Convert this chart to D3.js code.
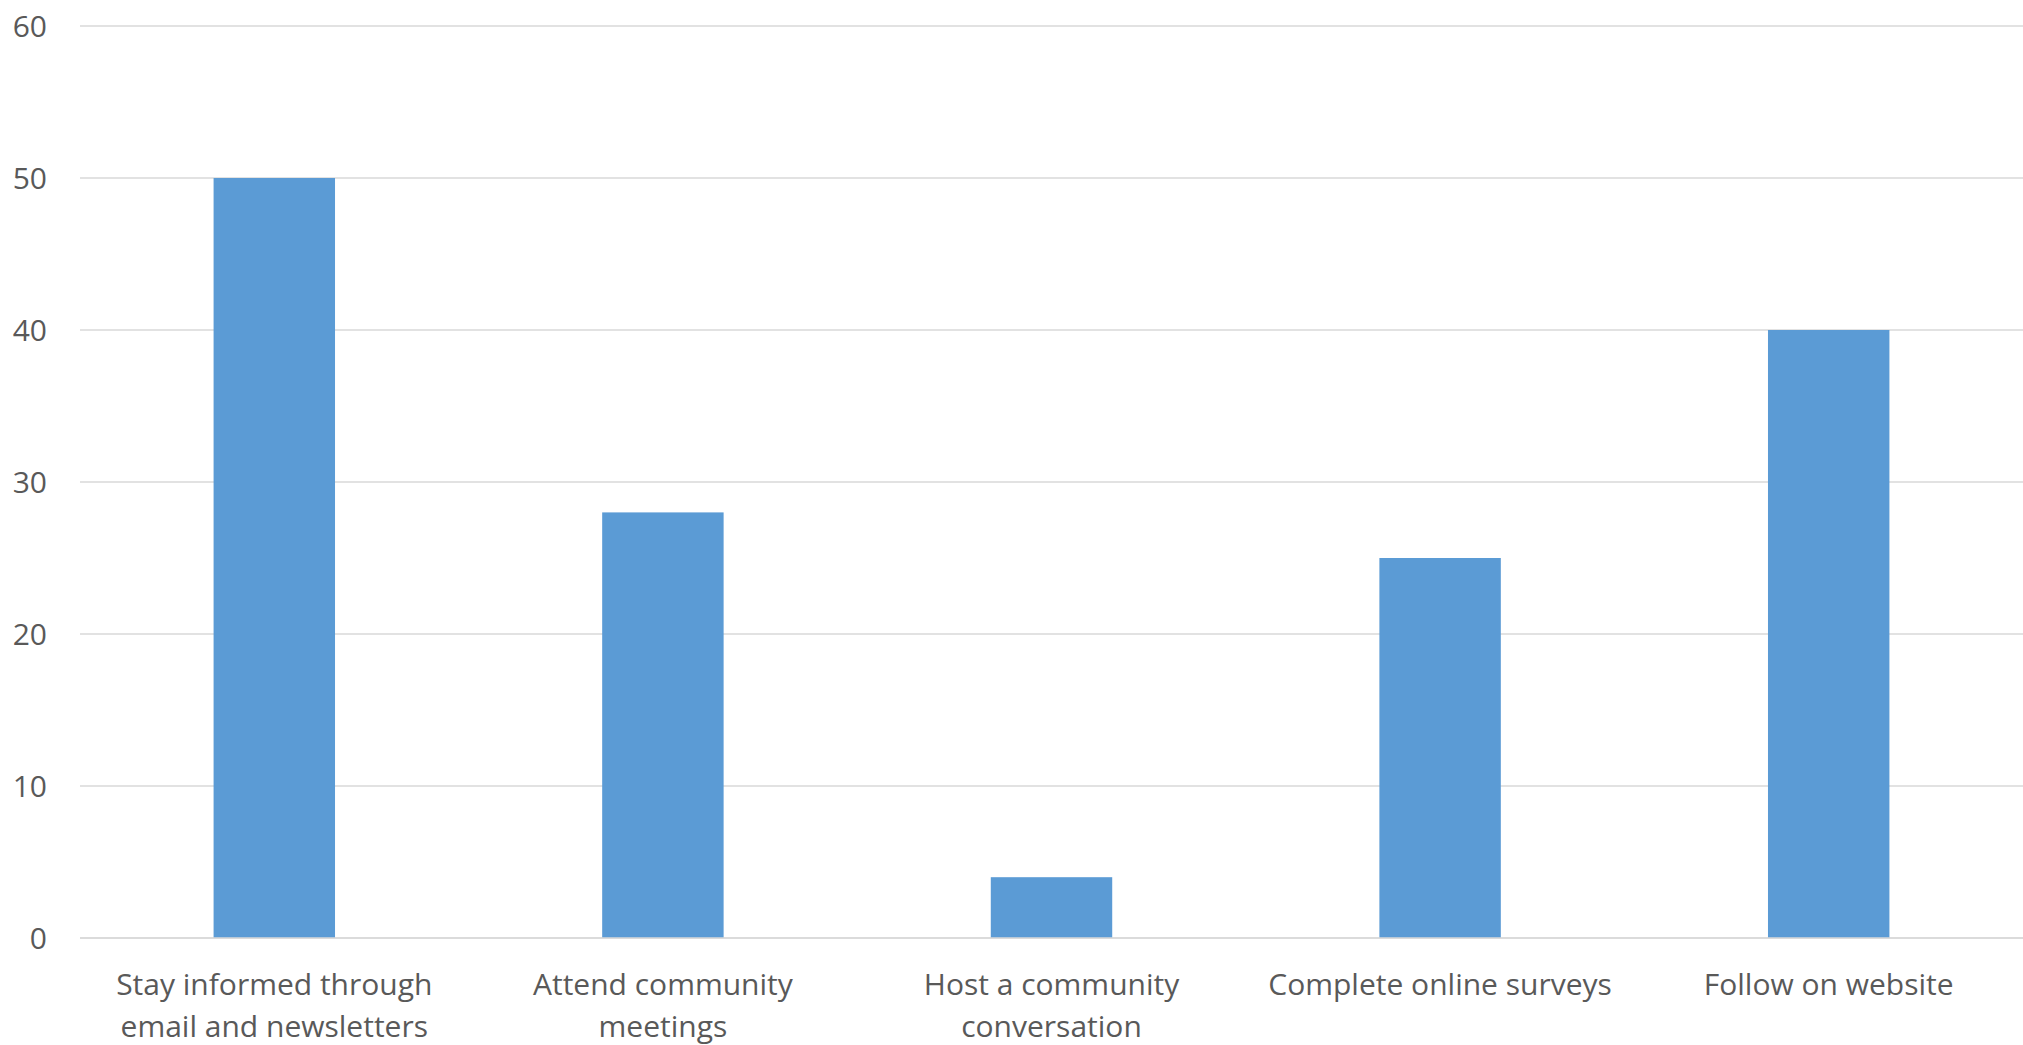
<!DOCTYPE html>
<html>
<head>
<meta charset="utf-8">
<script src="https://cdn.jsdelivr.net/npm/d3@7"></script>
<style>
  html, body { margin: 0; padding: 0; background: #ffffff; }
  svg { display: block; }
  text { font-family: "Open Sans", "Noto Sans", sans-serif; fill: #595959; }
</style>
</head>
<body>
<svg id="chart" width="2023" height="1045"></svg>
<script>
const categories = [
  "Stay informed through email and newsletters",
  "Attend community meetings",
  "Host a community conversation",
  "Complete online surveys",
  "Follow on website"
];
const categoryLines = [
  ["Stay informed through", "email and newsletters"],
  ["Attend community", "meetings"],
  ["Host a community", "conversation"],
  ["Complete online surveys"],
  ["Follow on website"]
];
const values = [50, 28, 4, 25, 40];
const yTicks = [0, 10, 20, 30, 40, 50, 60];

const W = 2023, H = 1045;
const margin = { top: 26, right: 0, bottom: 107, left: 80 };
const svg = d3.select("#chart");

const x = d3.scaleBand()
  .domain(categories)
  .range([margin.left, W - margin.right])
  .paddingInner(0.6875)
  .paddingOuter(0.34375);

const y = d3.scaleLinear()
  .domain([0, 60])
  .range([H - margin.bottom, margin.top]);

// gridlines
svg.append("g")
  .selectAll("line")
  .data(yTicks)
  .join("line")
  .attr("x1", margin.left)
  .attr("x2", W - margin.right)
  .attr("y1", d => y(d))
  .attr("y2", d => y(d))
  .attr("stroke", "#d9d9d9")
  .attr("stroke-width", 1.5);

// y tick labels
svg.append("g")
  .selectAll("text")
  .data(yTicks)
  .join("text")
  .attr("x", 47)
  .attr("y", d => y(d))
  .attr("dy", "0.35em")
  .attr("text-anchor", "end")
  .style("font-size", "30px")
  .text(d => d);

// bars
svg.append("g")
  .selectAll("rect")
  .data(values)
  .join("rect")
  .attr("x", (d, i) => x(categories[i]))
  .attr("width", x.bandwidth())
  .attr("y", d => y(d))
  .attr("height", d => y(0) - y(d))
  .attr("fill", "#5b9bd5");

// zero axis line on top
svg.append("line")
  .attr("x1", margin.left)
  .attr("x2", W - margin.right)
  .attr("y1", y(0))
  .attr("y2", y(0))
  .attr("stroke", "#d9d9d9")
  .attr("stroke-width", 1.5);

// category labels
const lab = svg.append("g")
  .selectAll("text")
  .data(categories)
  .join("text")
  .attr("text-anchor", "middle")
  .attr("x", d => x(d) + x.bandwidth() / 2)
  .attr("y", 995)
  .style("font-size", "30px");
lab.each(function(d, i) {
  const t = d3.select(this);
  categoryLines[i].forEach((ln, j) => {
    t.append("tspan")
      .attr("x", x(d) + x.bandwidth() / 2)
      .attr("y", 995 + j * 42)
      .text(ln);
  });
});
</script>
</body>
</html>
